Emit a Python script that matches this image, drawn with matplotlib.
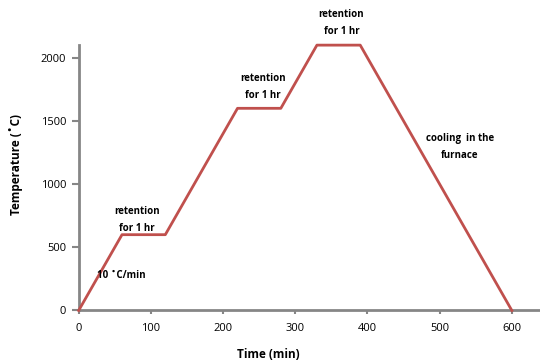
import numpy as np
import matplotlib.pyplot as plt

# heating schedule
time_min = [0, 60, 120, 220, 280, 330, 390, 600]
temp_c = [0, 600, 600, 1600, 1600, 2100, 2100, 0]
x_ticks = [0, 100, 200, 300, 400, 500, 600]
y_ticks = [0, 500, 1000, 1500, 2000]

plt.rcParams['font.family'] = ['Open Sans', 'DejaVu Sans']

fig = plt.figure(figsize=(5.4, 3.64), dpi=100)
ax = fig.add_axes([0.1457, 0.147, 0.8543, 0.729])

ax.plot(time_min, temp_c, color='#C0504D', lw=2.0, clip_on=False, zorder=3)

ax.set_xlim(0, 639)
ax.set_ylim(0, 2100)
ax.set_xticks(x_ticks)
ax.set_yticks(y_ticks)

for s in ['top', 'right']:
    ax.spines[s].set_visible(False)
for s in ['left', 'bottom']:
    ax.spines[s].set_color('#868686')
    ax.spines[s].set_linewidth(2)
ax.tick_params(axis='y', length=5, width=1.5, color='#868686', labelsize=8, pad=4)
ax.tick_params(axis='x', length=3, width=1.5, color='#868686', labelsize=8, pad=6, direction='out')

fig.text(16 / 540, 1 - 165 / 364, 'Temperature (˚C)', rotation=90, ha='center', va='center',
         fontsize=8.5, fontweight='bold')
fig.text(268 / 540, 1 - 354 / 364, 'Time (min)', ha='center', va='center',
         fontsize=8.5, fontweight='bold')

kw = dict(fontsize=7, fontweight='bold', ha='center', va='center', linespacing=1.75)
ax.text(81, 720, 'retention\nfor 1 hr', **kw)
ax.text(255, 1766, 'retention\nfor 1 hr', **kw)
ax.text(364, 2274, 'retention\nfor 1 hr', clip_on=False, **kw)
ax.text(528, 1290, 'cooling  in the\nfurnace', **kw)
ax.text(25, 274, '10 ˚C/min', fontsize=7, fontweight='bold', ha='left', va='center')

fig.savefig('out.png', dpi=100)
